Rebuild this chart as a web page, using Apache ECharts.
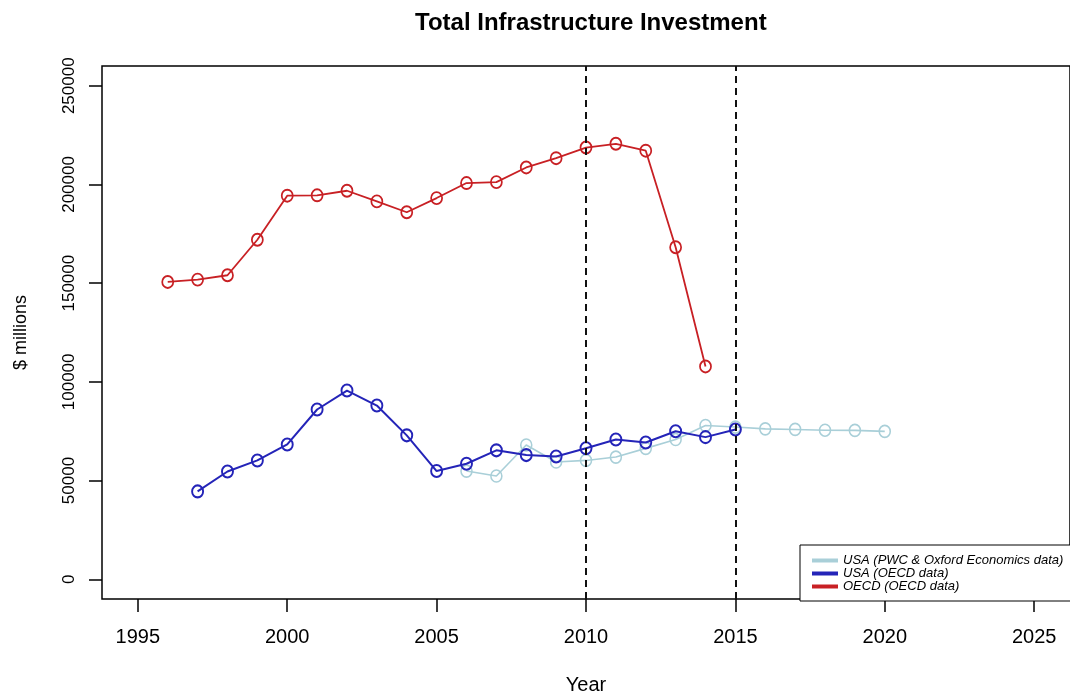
<!DOCTYPE html>
<html>
<head>
<meta charset="utf-8">
<title>Total Infrastructure Investment</title>
<script src="https://cdn.jsdelivr.net/npm/echarts@6/dist/echarts.min.js"></script>
<style>
  html, body { margin: 0; padding: 0; background: #fff; }
  #chart { width: 1070px; height: 700px; }
</style>
</head>
<body>
<div id="chart"></div>
<script>
// ---- data ----
var pwcYears   = [2006, 2007, 2008, 2009, 2010, 2011, 2012, 2013, 2014, 2015, 2016, 2017, 2018, 2019, 2020];
var pwcValues  = [54800, 52300, 68000, 59400, 60200, 61900, 66300, 70800, 77900, 77100, 76200, 75900, 75500, 75400, 74900];

var usaYears   = [1997, 1998, 1999, 2000, 2001, 2002, 2003, 2004, 2005, 2006, 2007, 2008, 2009, 2010, 2011, 2012, 2013, 2014, 2015];
var usaValues  = [44500, 54600, 60200, 68300, 86000, 95600, 88000, 72900, 54800, 58500, 65300, 62900, 62200, 66400, 70800, 69300, 75000, 72000, 75900];

var oecdYears  = [1996, 1997, 1998, 1999, 2000, 2001, 2002, 2003, 2004, 2005, 2006, 2007, 2008, 2009, 2010, 2011, 2012, 2013, 2014];
var oecdValues = [150600, 151800, 154000, 172000, 194300, 194500, 196800, 191400, 185900, 193100, 200700, 201200, 208600, 213300, 218700, 220600, 217100, 168200, 107800];

var xTicks = [1995, 2000, 2005, 2010, 2015, 2020, 2025];
var yTicks = [0, 50000, 100000, 150000, 200000, 250000];
var refYears = [2010, 2015];

var seriesNames = ['USA (PWC & Oxford Economics data)', 'USA (OECD data)', 'OECD (OECD data)'];
var colPwc = '#a9cfd8', colUsa = '#2424b8', colOecd = '#c82024';

function pairs(xs, ys) { return xs.map(function (x, i) { return [x, ys[i]]; }); }

var FONT = "'Liberation Sans', Arial, Helvetica, sans-serif";

function lineSeries(name, data, color, width, z) {
  return {
    name: name,
    type: 'line',
    data: data,
    z: z,
    symbol: 'circle',
    symbolSize: [11, 12],
    showSymbol: true,
    itemStyle: { color: 'rgba(0,0,0,0)', borderColor: color, borderWidth: width },
    lineStyle: { color: color, width: width },
    emphasis: { disabled: true },
    animation: false
  };
}

var chart = echarts.init(document.getElementById('chart'), null, { renderer: 'canvas' });

var s1 = lineSeries(seriesNames[0], pairs(pwcYears, pwcValues), colPwc, 1.6, 2);
var s2 = lineSeries(seriesNames[1], pairs(usaYears, usaValues), colUsa, 2, 3);
var s3 = lineSeries(seriesNames[2], pairs(oecdYears, oecdValues), colOecd, 1.8, 4);
s1.markLine = {
  silent: true,
  symbol: ['none', 'none'],
  label: { show: false },
  lineStyle: { color: '#111', width: 2, type: [7, 5] },
  data: refYears.map(function (y) { return { xAxis: y }; }),
  animation: false
};

chart.setOption({
  backgroundColor: '#fff',
  animation: false,
  title: {
    text: 'Total Infrastructure Investment',
    left: 410,
    top: 6,
    textStyle: { fontFamily: FONT, fontSize: 24, fontWeight: 'bold', color: '#000' }
  },
  grid: {
    left: 102, top: 66, width: 969, height: 533,
    show: true, borderColor: '#000', borderWidth: 1.5, backgroundColor: 'transparent'
  },
  legend: {
    orient: 'vertical',
    left: 800, top: 545,
    padding: [9, 14, 8, 12],
    itemGap: 0,
    itemWidth: 24, itemHeight: 2,
    icon: 'rect',
    backgroundColor: '#fff',
    borderColor: '#000', borderWidth: 1,
    selectedMode: false,
    textStyle: { fontFamily: FONT, fontSize: 13, fontStyle: 'italic', color: '#000', lineHeight: 12, padding: [0, 0, 0, 1] },
    data: [
      { name: seriesNames[0], itemStyle: { color: colPwc } },
      { name: seriesNames[1], itemStyle: { color: colUsa } },
      { name: seriesNames[2], itemStyle: { color: colOecd } }
    ],
    z: 10
  },
  xAxis: {
    type: 'value',
    min: 1993.8, max: 2026.2,
    name: 'Year',
    nameLocation: 'middle',
    nameGap: 76,
    nameTextStyle: { fontFamily: FONT, fontSize: 20, color: '#000' },
    axisLine: { show: false, onZero: false },
    splitLine: { show: false },
    axisTick: { show: true, inside: false, length: 13, lineStyle: { color: '#000', width: 1.5 }, customValues: xTicks },
    axisLabel: { fontFamily: FONT, fontSize: 20, color: '#000', margin: 28, customValues: xTicks, formatter: function (v) { return String(v); } }
  },
  yAxis: {
    type: 'value',
    min: -10000, max: 260000,
    name: '$ millions',
    nameLocation: 'middle',
    nameGap: 72,
    nameRotate: 90,
    nameTextStyle: { fontFamily: FONT, fontSize: 18, color: '#000' },
    axisLine: { show: false, onZero: false },
    splitLine: { show: false },
    axisTick: { show: true, inside: false, length: 13, lineStyle: { color: '#000', width: 1.5 }, customValues: yTicks },
    axisLabel: { fontFamily: FONT, fontSize: 17, color: '#000', margin: 24, rotate: 90, customValues: yTicks, formatter: function (v) { return String(v); } }
  },
  series: [s1, s2, s3]
});
</script>
</body>
</html>
